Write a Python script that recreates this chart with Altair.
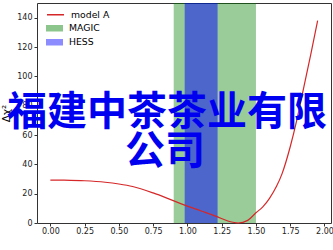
import altair as alt
import pandas as pd

# curve
alpha_vals = [0.00, 0.10, 0.25, 0.40, 0.50, 0.60, 0.75, 0.85, 0.97, 1.10, 1.21, 1.30, 1.37, 1.44, 1.50, 1.55, 1.60, 1.65, 1.69, 1.75, 1.80, 1.85, 1.90, 1.95]
chi2_vals  = [29.3, 29.2, 28.8, 27.8, 26.6, 24.9, 20.5, 17.0, 12.5, 8.2, 4.5, 1.2, 0.0, 1.8, 7.0, 11.0, 17.0, 25.0, 33.5, 52.0, 71.0, 93.0, 115.0, 138.0]

band_names = ["MAGIC", "HESS"]
band_lo = [0.90, 0.98]
band_hi = [1.50, 1.22]
band_colors = ["#008000", "#0000ff"]

line_name = ["model A"]
line_color = ["#d62728"]

x_ticks = [0.0, 0.25, 0.5, 0.75, 1.0, 1.25, 1.5, 1.75, 2.0]
y_ticks = [0, 20, 40, 60, 80, 100, 120, 140]

wm_lines = ["福建中茶茶业有限", "公司"]

curve = pd.DataFrame({"alpha": alpha_vals, "chi2": chi2_vals, "name": line_name * len(alpha_vals)})
bands = pd.DataFrame({"lo": band_lo, "hi": band_hi, "name": band_names})

xscale = alt.Scale(domain=[-0.0975, 2.0475], nice=False, zero=False)
yscale = alt.Scale(domain=[0, 150], nice=False)

common_leg = dict(title=None, orient="none", padding=0, clipHeight=11.5, rowPadding=2,
                  symbolSize=289, labelOffset=6, labelFontSize=9.3, labelFont="DejaVu Sans",
                  labelColor="#000", legendX=9)

line_legend = alt.Legend(legendY=6, symbolType="stroke", symbolStrokeWidth=1.4, **common_leg)
band_legend = alt.Legend(legendY=19.5, symbolType="M-1,-0.38L1,-0.38L1,0.38L-1,0.38Z",
                         symbolOpacity=0.45, symbolStrokeWidth=0, **common_leg)

xaxis = alt.Axis(values=x_ticks, format=".2f", title="Cosmic-ray profile α", grid=False, domain=False,
                 labelFontSize=8, labelFont="DejaVu Sans", labelColor="#222", tickSize=3, tickColor="#333",
                 labelPadding=1.5, titleFontSize=10.5, titleFont="DejaVu Sans", titleFontWeight="normal",
                 titleColor="#000", titleY=242, titleBaseline="alphabetic")
yaxis = alt.Axis(values=y_ticks, title="Δχ²", grid=False, domain=False,
                 labelFontSize=8, labelFont="DejaVu Sans", labelColor="#222", tickSize=3, tickColor="#333",
                 labelPadding=2, titleFontSize=10.5, titleFont="DejaVu Sans", titleFontWeight="normal",
                 titleColor="#000", titleX=-31, titleY=110, titleAngle=-90, titleAlign="center",
                 titleBaseline="middle")

band_layer = alt.Chart(bands).mark_rect().encode(
    x=alt.X("lo:Q", scale=xscale, axis=xaxis),
    x2="hi:Q",
    y=alt.value(0),
    y2=alt.value(220),
    fill=alt.Fill("name:N", scale=alt.Scale(domain=band_names, range=band_colors), legend=band_legend),
    opacity=alt.condition("datum.name == 'HESS'", alt.value(0.5), alt.value(0.4)),
)

line_layer = alt.Chart(curve).mark_line(strokeWidth=1.2, interpolate="monotone").encode(
    x=alt.X("alpha:Q", scale=xscale, axis=xaxis),
    y=alt.Y("chi2:Q", scale=yscale, axis=yaxis),
    stroke=alt.Stroke("name:N", scale=alt.Scale(domain=line_name, range=line_color), legend=line_legend),
)

wm1 = alt.Chart(pd.DataFrame({"t": [wm_lines[0]]})).mark_text(
    font="Noto Sans CJK SC", fontWeight="bold", fontSize=40, color="#0000f0",
    align="center", baseline="alphabetic").encode(
    text="t:N", x=alt.value(130), y=alt.value(121.5))
wm2 = alt.Chart(pd.DataFrame({"t": [wm_lines[1]]})).mark_text(
    font="Noto Sans CJK SC", fontWeight="bold", fontSize=40, color="#0000f0",
    align="center", baseline="alphabetic").encode(
    text="t:N", x=alt.value(128), y=alt.value(161))

chart = alt.layer(band_layer, line_layer, wm1, wm2).properties(
    width=294, height=220,
    autosize=alt.AutoSizeParams(type="none"),
    padding={"left": 37, "top": 3, "right": 2, "bottom": 27},
    background="white",
).resolve_scale(fill="independent", stroke="independent").configure_view(stroke="#333", strokeWidth=1)

chart.save("out.html", embed_options={"renderer": "svg", "actions": False})
